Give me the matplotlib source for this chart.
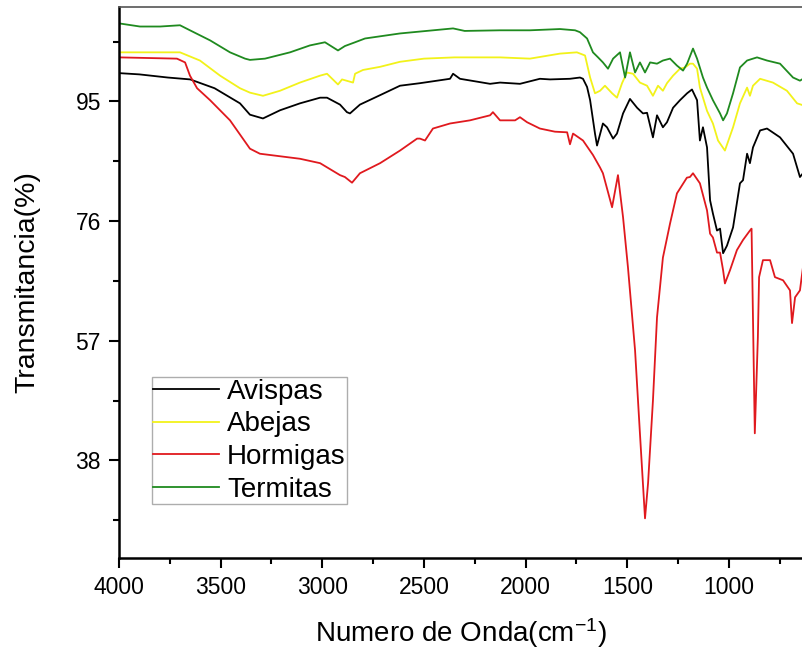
import matplotlib
matplotlib.use("Agg")
import matplotlib.pyplot as plt
from matplotlib.ticker import MultipleLocator

plt.rcParams['font.family'] = ['Liberation Sans', 'DejaVu Sans']
plt.rcParams['mathtext.default'] = 'regular'

# wavenumber (cm-1) and transmittance (%)
avispas_wn = [4000, 3900, 3760, 3650, 3530, 3405, 3356, 3292, 3208, 3110, 3011, 2977, 2913, 2879, 2864,
              2815, 2716, 2618, 2520, 2372, 2357, 2323, 2175, 2126, 2028, 1930, 1880, 1782, 1733, 1718,
              1698, 1683, 1659, 1649, 1620, 1600, 1570, 1551, 1521, 1487, 1452, 1423, 1403, 1374, 1354,
              1325, 1305, 1275, 1241, 1206, 1182, 1157, 1143, 1128, 1108, 1093, 1079, 1059, 1044, 1029,
              1010, 980, 946, 931, 911, 897, 882, 847, 813, 749, 685, 651, 636]
avispas_t = [99.5, 99.3, 98.8, 98.5, 97.1, 94.7, 92.9, 92.3, 93.6, 94.7, 95.6, 95.6, 94.5, 93.3, 93.1,
             94.5, 96.0, 97.5, 97.9, 98.6, 99.4, 98.6, 97.8, 98.0, 97.8, 98.6, 98.5, 98.6, 98.8, 98.6,
             97.3, 95.2, 89.9, 88.0, 91.5, 90.9, 89.1, 89.9, 93.1, 95.4, 94.0, 93.1, 93.2, 89.3, 92.8,
             90.9, 91.7, 94.0, 95.2, 96.3, 96.9, 95.2, 88.8, 90.9, 87.7, 79.3, 77.2, 74.5, 74.8, 70.9,
             72.1, 75.0, 82.0, 82.5, 86.7, 85.2, 87.7, 90.4, 90.7, 89.3, 86.7, 83.0, 83.6]

abejas_wn = [4000, 3700, 3602, 3503, 3405, 3356, 3292, 3208, 3110, 3011, 2977, 2923, 2903, 2849, 2839,
             2800, 2716, 2618, 2500, 2350, 2126, 1979, 1831, 1748, 1708, 1683, 1659, 1634, 1610, 1575,
             1551, 1526, 1502, 1472, 1438, 1403, 1374, 1349, 1325, 1305, 1275, 1241, 1216, 1192, 1177,
             1157, 1143, 1108, 1079, 1054, 1020, 980, 946, 911, 897, 882, 847, 784, 715, 665, 636]
abejas_t = [102.8, 102.8, 101.5, 99.1, 97.1, 96.4, 95.9, 96.7, 98.0, 99.1, 99.4, 97.7, 98.5, 98.0, 99.4,
            100.0, 100.5, 101.3, 101.8, 102.0, 102.0, 101.8, 102.6, 102.8, 102.3, 98.8, 96.3, 96.7, 97.5, 96.3,
            95.6, 97.9, 99.6, 99.4, 98.0, 97.5, 95.9, 97.5, 96.7, 97.9, 99.1, 100.2, 100.4, 101.0, 101.0,
            100.2, 97.2, 93.5, 91.5, 88.8, 87.2, 90.9, 94.7, 97.2, 95.9, 97.5, 98.6, 98.0, 96.7, 94.7, 94.4]

hormigas_wn = [4000, 3715, 3675, 3651, 3616, 3552, 3454, 3356, 3307, 3110, 3011, 2913, 2889, 2854, 2815,
               2716, 2618, 2534, 2520, 2495, 2456, 2372, 2274, 2175, 2161, 2126, 2052, 2028, 1993, 1930,
               1856, 1796, 1782, 1767, 1718, 1669, 1634, 1620, 1575, 1546, 1521, 1497, 1462, 1438, 1413,
               1398, 1374, 1354, 1325, 1290, 1256, 1207, 1192, 1177, 1143, 1108, 1093, 1079, 1059, 1044,
               1029, 1020, 995, 961, 931, 897, 889, 873, 858, 852, 833, 798, 774, 734, 700, 690, 675, 651, 636]
hormigas_t = [102.0, 101.8, 101.2, 99.1, 97.1, 95.2, 92.0, 87.5, 86.7, 85.9, 85.2, 83.3, 83.0, 82.1, 83.6,
              85.2, 87.2, 89.1, 89.1, 88.8, 90.7, 91.5, 92.0, 92.8, 93.3, 92.0, 92.0, 92.5, 91.7, 90.7,
              90.2, 90.1, 88.2, 89.9, 88.8, 86.5, 84.5, 83.6, 78.2, 83.3, 76.6, 68.7, 55.5, 42.3, 28.8,
              34.4, 47.5, 60.7, 70.2, 75.6, 80.4, 82.9, 83.0, 83.6, 82.0, 77.7, 74.0, 73.4, 71.0, 71.0,
              68.2, 66.1, 68.2, 71.4, 73.0, 74.5, 74.8, 42.3, 57.5, 67.1, 69.8, 69.8, 67.1, 66.6, 65.0,
              59.8, 63.9, 65.0, 68.7]

termitas_wn = [4000, 3897, 3798, 3700, 3651, 3552, 3454, 3380, 3356, 3282, 3159, 3061, 2987, 2923, 2889,
               2839, 2790, 2618, 2357, 2300, 2126, 1979, 1831, 1757, 1733, 1698, 1669, 1644, 1620, 1595,
               1570, 1536, 1511, 1487, 1462, 1438, 1413, 1388, 1354, 1325, 1290, 1256, 1226, 1206, 1177,
               1157, 1128, 1108, 1079, 1044, 1029, 1010, 980, 946, 911, 882, 862, 813, 749, 685, 651, 636]
termitas_t = [107.4, 106.9, 106.9, 107.1, 106.3, 104.7, 102.8, 101.8, 101.6, 101.8, 102.8, 103.9, 104.4, 103.1, 103.8,
              104.4, 105.0, 105.8, 106.6, 106.2, 106.3, 106.3, 106.5, 106.3, 106.0, 105.0, 102.8, 102.0, 101.2, 100.2,
              101.8, 102.8, 98.8, 102.8, 99.6, 101.2, 99.6, 101.2, 101.0, 101.5, 101.8, 100.7, 99.9, 101.0, 103.4,
              101.8, 98.8, 97.2, 95.2, 93.1, 92.0, 93.1, 96.3, 100.4, 101.5, 101.8, 102.0, 101.5, 101.0, 98.8,
              98.3, 98.6]

fig = plt.figure(figsize=(8.03, 6.52), dpi=100)
ax = fig.add_axes([119/803, 94/652, 1 - 119/803, 551/652])

ax.plot(avispas_wn, avispas_t, color='black', lw=1.3, label='Avispas')
ax.plot(abejas_wn, abejas_t, color='#f2f21a', lw=1.3, label='Abejas')
ax.plot(hormigas_wn, hormigas_t, color='#e0191e', lw=1.3, label='Hormigas')
ax.plot(termitas_wn, termitas_t, color='#1f8a1f', lw=1.3, label='Termitas')

ax.set_xlim(4000, 636)
ax.set_ylim(22.5, 110)
ax.xaxis.set_major_locator(MultipleLocator(500))
ax.xaxis.set_minor_locator(MultipleLocator(250))
ax.yaxis.set_major_locator(MultipleLocator(19))
ax.yaxis.set_minor_locator(MultipleLocator(9.5))
ax.tick_params(which='both', direction='out', width=1.5, labelsize=16.5, top=False, right=False)
ax.tick_params(which='major', length=7, pad=6)
ax.tick_params(which='minor', length=4)

ax.spines['right'].set_visible(False)
ax.spines['top'].set_color('#555555')
ax.spines['top'].set_linewidth(1.2)
ax.spines['left'].set_linewidth(1.8)
ax.spines['bottom'].set_linewidth(1.8)

ax.set_xlabel('Numero de Onda(cm$^{-1}$)', fontsize=20, labelpad=12)
ax.set_ylabel('Transmitancia(%)', fontsize=20.5, labelpad=25)

leg = ax.legend(loc='lower left', bbox_to_anchor=(152/803, 148/652), bbox_transform=fig.transFigure,
                fontsize=20, frameon=True, fancybox=False, borderaxespad=0, borderpad=0.05,
                labelspacing=0.24, handlelength=2.35, handletextpad=0.3)
leg.get_frame().set_edgecolor('#999999')
leg.get_frame().set_linewidth(1.0)

fig.savefig('out.png', dpi=100)
